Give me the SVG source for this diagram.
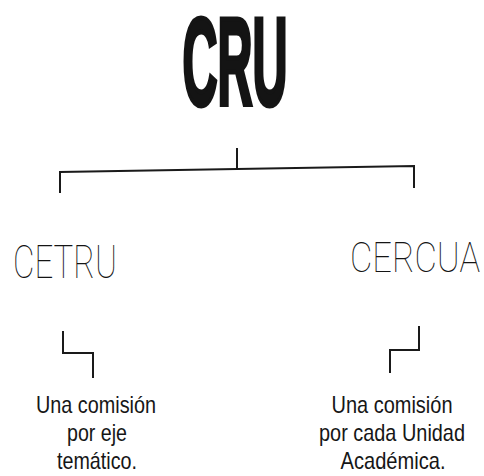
<svg xmlns="http://www.w3.org/2000/svg" width="484" height="476" viewBox="0 0 484 476">
<style>
.ln{fill:none;stroke:#1a1a1a;stroke-width:2;stroke-linecap:square}
.title{font-family:"Liberation Sans Narrow","Liberation Sans",Arial,sans-serif;font-weight:bold;font-size:124px;fill:#141414;stroke:#141414;stroke-width:5;stroke-linejoin:miter}
.head{font-family:Roboto,Inter,Lato,"Open Sans",sans-serif;font-weight:100;fill:#141414}
.body{font-family:"Liberation Sans Narrow","Liberation Sans",Arial,sans-serif;font-size:24px;fill:#161616;text-anchor:middle}
</style>
<rect width="484" height="476" fill="#ffffff"/>
<g id="cru"><text class="title" x="182.5" y="104.5" textLength="105" lengthAdjust="spacingAndGlyphs">CRU</text></g>
<g id="cetru"><text class="head" x="13" y="278" font-size="46" textLength="104" lengthAdjust="spacingAndGlyphs">CETRU</text></g>
<g id="cercua"><text class="head" x="350" y="272" font-size="42" textLength="130" lengthAdjust="spacingAndGlyphs">CERCUA</text></g>
<g id="cetru-desc">
<text class="body" x="96" y="413" textLength="120" lengthAdjust="spacingAndGlyphs">Una comisión</text>
<text class="body" x="97" y="441" textLength="60" lengthAdjust="spacingAndGlyphs">por eje</text>
<text class="body" x="97" y="469" textLength="80" lengthAdjust="spacingAndGlyphs">temático.</text>
</g>
<g id="cercua-desc">
<text class="body" x="392" y="413" textLength="121" lengthAdjust="spacingAndGlyphs">Una comisión</text>
<text class="body" x="392" y="441" textLength="146" lengthAdjust="spacingAndGlyphs">por cada Unidad</text>
<text class="body" x="393" y="469" textLength="105" lengthAdjust="spacingAndGlyphs">Académica.</text>
</g>
<g id="connectors">
<path class="ln" d="M237 149 V169"/>
<path class="ln" d="M60 192 V172 L414 166 V187"/>
<path class="ln" d="M63 332 V353 H93 V377"/>
<path class="ln" d="M419 327 V350 H390 V372"/>
</g>
</svg>
